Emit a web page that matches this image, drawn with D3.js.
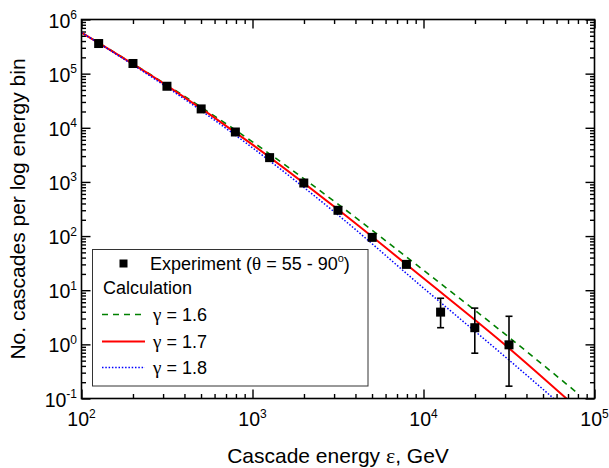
<!DOCTYPE html>
<html><head><meta charset="utf-8">
<script src="https://cdn.jsdelivr.net/npm/d3@7"></script>
<style>
body{margin:0;background:#fff}
svg{display:block}
text{font-family:Arial,"Liberation Sans",sans-serif;fill:#000}
.gk{font-family:"Liberation Serif","Times New Roman",serif}
</style>
</head><body>
<svg id="chart" width="609" height="468"></svg>
<script>
// ---- data ----
const xTickValues = [100, 1000, 10000, 100000];
const xTickExps = ["2", "3", "4", "5"];
const yTickValues = [0.1, 1, 10, 100, 1000, 1e4, 1e5, 1e6];
const yTickExps = ["-1", "0", "1", "2", "3", "4", "5", "6"];

const expEnergy = [126, 200, 316, 501, 794, 1259, 1995, 3162, 5012, 7943, 12589, 19953, 31623];
const expCounts = [3.6e5, 1.54e5, 5.85e4, 2.23e4, 8.36e3, 2.81e3, 955, 299, 94.6, 30.0, 3.94, 2.03, 0.98];
const expErrHigh = [null, null, null, null, null, null, null, null, null, null, 7.1, 4.67, 3.3];
const expErrLow  = [null, null, null, null, null, null, null, null, null, null, 2.03, 0.687, 0.169];

const calcEnergy = [100, 316, 1000, 3162, 10000, 31623, 79433];
const calcG16 = [5.75e5, 61660, 5495, 389, 23.4, 1.35, 0.126];
const calcG17 = [5.75e5, 60256, 4898, 309, 16.6, 0.851, 0.066];
const calcG18 = [5.75e5, 56234, 4266, 245.5, 10.96, 0.513, 0.0417];

const legendGammas = ["1.6", "1.7", "1.8"];

// ---- layout ----
const L = 81.5, R = 594.5, T = 19.5, B = 398.5;
const svg = d3.select("#chart");
const x = d3.scaleLog().domain([100, 1e5]).range([L, R]);
const y = d3.scaleLog().domain([0.1, 1e6]).range([B, T]);

function minorTicks(decades, lo, hi) {
  const out = [];
  decades.forEach(d => { for (let k = 2; k <= 9; k++) { const v = d * k; if (v > lo && v < hi) out.push(v); } });
  return out;
}
const xMinor = minorTicks(xTickValues, 100, 1e5);
const yMinor = minorTicks(yTickValues, 0.1, 1e6);

const MAJ = 9, MIN = 4.5;
function drawAxis(gen, tr, vals, size) {
  const g = svg.append("g").attr("transform", tr)
    .call(gen.tickValues(vals).tickSizeInner(-size).tickSizeOuter(0).tickFormat(""));
  g.select(".domain").remove();
  g.selectAll("line").attr("stroke", "#000").attr("stroke-width", 1.4);
}
drawAxis(d3.axisBottom(x), `translate(0,${B})`, xTickValues, MAJ);
drawAxis(d3.axisBottom(x), `translate(0,${B})`, xMinor, MIN);
drawAxis(d3.axisTop(x), `translate(0,${T})`, xTickValues, MAJ);
drawAxis(d3.axisTop(x), `translate(0,${T})`, xMinor, MIN);
drawAxis(d3.axisLeft(y), `translate(${L},0)`, yTickValues, MAJ);
drawAxis(d3.axisLeft(y), `translate(${L},0)`, yMinor, MIN);
drawAxis(d3.axisRight(y), `translate(${R},0)`, yTickValues, MAJ);
drawAxis(d3.axisRight(y), `translate(${R},0)`, yMinor, MIN);

// tick labels
const xl = svg.append("g").selectAll("text").data(xTickValues).join("text")
  .attr("x", d => x(d)).attr("y", 426).attr("text-anchor", "middle").attr("font-size", 19.5);
xl.append("tspan").text("10");
xl.append("tspan").attr("font-size", 12).attr("dy", -8.5).text((d, i) => xTickExps[i]);

const yl = svg.append("g").selectAll("text").data(yTickValues).join("text")
  .attr("x", 77).attr("y", d => y(d) + 8).attr("text-anchor", "end").attr("font-size", 19.5);
yl.append("tspan").text("10");
yl.append("tspan").attr("font-size", 12).attr("dy", -8.5).text((d, i) => yTickExps[i]);

// axis titles
const xt = svg.append("text").attr("x", (L + R) / 2).attr("y", 463).attr("text-anchor", "middle")
  .attr("font-size", 21);
xt.append("tspan").text("Cascade energy ");
xt.append("tspan").attr("class", "gk").attr("font-size", 22).text("\u03b5");
xt.append("tspan").text(", GeV");
svg.append("text").attr("transform", `translate(25,${(T + B) / 2}) rotate(-90)`)
  .attr("text-anchor", "middle").attr("font-size", 21).text("No. cascades per log energy bin");

// clip
svg.append("clipPath").attr("id", "clip").append("rect")
  .attr("x", L).attr("y", T).attr("width", R - L).attr("height", B - T);

const line = d3.line().x(d => x(d[0])).y(d => y(d[1])).curve(d3.curveMonotoneX);
const styles = [
  {vals: calcG16, color: "#008000", w: 1.6, dash: "6,5"},
  {vals: calcG17, color: "#ff0000", w: 2, dash: null},
  {vals: calcG18, color: "#0000ff", w: 1.5, dash: "1.5,1.8"}
];
const lg = svg.append("g").attr("clip-path", "url(#clip)");
styles.forEach(s => {
  lg.append("path").datum(calcEnergy.map((e, i) => [e, s.vals[i]]))
    .attr("d", line).attr("fill", "none").attr("stroke", s.color)
    .attr("stroke-width", s.w).attr("stroke-dasharray", s.dash);
});

// error bars
const eg = svg.append("g");
expEnergy.forEach((e, i) => {
  if (expErrHigh[i] == null) return;
  const cx = x(e), y1 = y(expErrHigh[i]), y2 = y(expErrLow[i]);
  eg.append("line").attr("x1", cx).attr("x2", cx).attr("y1", y1).attr("y2", y2).attr("stroke", "#000").attr("stroke-width", 1.6);
  [y1, y2].forEach(yy => eg.append("line").attr("x1", cx - 3.5).attr("x2", cx + 3.5).attr("y1", yy).attr("y2", yy).attr("stroke", "#000").attr("stroke-width", 1.6));
});

// markers
const MS = 9;
svg.append("g").selectAll("rect").data(expEnergy).join("rect")
  .attr("x", d => x(d) - MS / 2).attr("y", (d, i) => y(expCounts[i]) - MS / 2)
  .attr("width", MS).attr("height", MS).attr("fill", "#000");

// frame
svg.append("rect").attr("x", L).attr("y", T).attr("width", R - L).attr("height", B - T)
  .attr("fill", "none").attr("stroke", "#000").attr("stroke-width", 1.6);

// legend
const leg = svg.append("g");
leg.append("rect").attr("x", 92.5).attr("y", 249.5).attr("width", 275.5).attr("height", 136.5)
  .attr("fill", "#fff").attr("stroke", "#333").attr("stroke-width", 1);
leg.append("rect").attr("x", 119.5).attr("y", 259.5).attr("width", 8).attr("height", 8).attr("fill", "#000");
const et = leg.append("text").attr("x", 150).attr("y", 270).attr("font-size", 18);
et.append("tspan").text("Experiment (");
et.append("tspan").attr("class", "gk").attr("font-size", 19).text("\u03b8");
et.append("tspan").text(" = 55 - 90");
et.append("tspan").attr("font-size", 11).attr("dy", -8).text("o");
et.append("tspan").attr("dy", 8).text(")");
leg.append("text").attr("x", 103).attr("y", 294).attr("font-size", 18).text("Calculation");
const rowsY = [314.5, 341.5, 367.5];
styles.forEach((s, i) => {
  leg.append("line").attr("x1", 102).attr("x2", 145).attr("y1", rowsY[i]).attr("y2", rowsY[i])
    .attr("stroke", s.color).attr("stroke-width", s.w).attr("stroke-dasharray", s.dash);
  const t = leg.append("text").attr("x", 153).attr("y", rowsY[i] + 6.5).attr("font-size", 18);
  t.append("tspan").attr("class", "gk").attr("font-size", 19).text("\u03b3");
  t.append("tspan").text(" = " + legendGammas[i]);
});
</script>
</body></html>
